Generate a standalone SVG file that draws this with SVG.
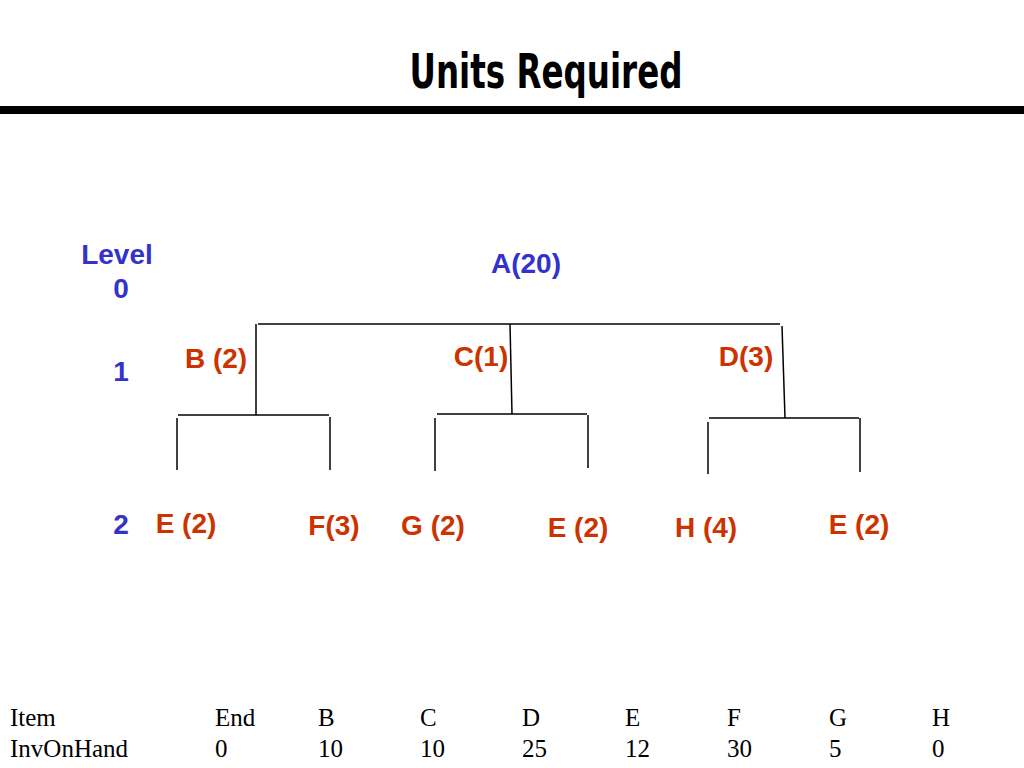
<svg xmlns="http://www.w3.org/2000/svg" width="1024" height="768" viewBox="0 0 1024 768">
<style>
.lvl{font-family:"Liberation Sans",Arial,sans-serif;font-weight:bold;font-size:28px;fill:#3333CC}
.red{font-family:"Liberation Sans",Arial,sans-serif;font-weight:bold;font-size:28px;fill:#CC3300}
.tbl{font-family:"Liberation Serif","Times New Roman",serif;font-size:25px;fill:#000}
.ln{stroke:#000;stroke-width:1.5;fill:none}
</style>
<rect width="1024" height="768" fill="#fff"/>
<text x="546" y="88" text-anchor="middle" font-family="DejaVu Sans Condensed, DejaVu Sans, sans-serif" font-weight="bold" font-size="48" textLength="273" lengthAdjust="spacingAndGlyphs">Units Required</text>
<rect x="0" y="106" width="1024" height="8" fill="#000"/>
<g id="levels">
<text class="lvl" x="117" y="264" text-anchor="middle">Level</text>
<text class="lvl" x="121" y="298" text-anchor="middle">0</text>
<text class="lvl" x="121" y="381" text-anchor="middle">1</text>
<text class="lvl" x="121" y="534" text-anchor="middle">2</text>
</g>
<g id="connectors">
<line class="ln" x1="258" y1="324" x2="780" y2="324"/>
<line class="ln" x1="256" y1="324" x2="256" y2="415"/>
<line class="ln" x1="510" y1="324" x2="512" y2="414"/>
<line class="ln" x1="782" y1="326" x2="785" y2="418"/>
<line class="ln" x1="178" y1="415" x2="329" y2="415"/>
<line class="ln" x1="177" y1="418" x2="177" y2="470"/>
<line class="ln" x1="330" y1="417" x2="330" y2="470"/>
<line class="ln" x1="437" y1="414" x2="587" y2="414"/>
<line class="ln" x1="435" y1="418" x2="435" y2="471"/>
<line class="ln" x1="588" y1="415" x2="588" y2="468"/>
<line class="ln" x1="709" y1="418" x2="859" y2="418"/>
<line class="ln" x1="708" y1="422" x2="708" y2="474"/>
<line class="ln" x1="860" y1="418" x2="860" y2="472"/>
</g>
<g id="node-A"><text class="lvl" x="526" y="273" text-anchor="middle">A(20)</text></g>
<g id="node-B"><text class="red" x="216" y="368" text-anchor="middle">B (2)</text></g>
<g id="node-C"><text class="red" x="481" y="366" text-anchor="middle">C(1)</text></g>
<g id="node-D"><text class="red" x="746" y="366" text-anchor="middle">D(3)</text></g>
<g id="node-E1"><text class="red" x="186" y="533" text-anchor="middle">E (2)</text></g>
<g id="node-F"><text class="red" x="334" y="535" text-anchor="middle">F(3)</text></g>
<g id="node-G"><text class="red" x="433" y="535" text-anchor="middle">G (2)</text></g>
<g id="node-E2"><text class="red" x="578" y="537" text-anchor="middle">E (2)</text></g>
<g id="node-H"><text class="red" x="706" y="537" text-anchor="middle">H (4)</text></g>
<g id="node-E3"><text class="red" x="859" y="534" text-anchor="middle">E (2)</text></g>
<g id="table">
<text class="tbl" x="10" y="726">Item</text>
<text class="tbl" x="215" y="726">End</text>
<text class="tbl" x="318" y="726">B</text>
<text class="tbl" x="420" y="726">C</text>
<text class="tbl" x="522" y="726">D</text>
<text class="tbl" x="625" y="726">E</text>
<text class="tbl" x="727" y="726">F</text>
<text class="tbl" x="829" y="726">G</text>
<text class="tbl" x="932" y="726">H</text>
<text class="tbl" x="10" y="757">InvOnHand</text>
<text class="tbl" x="215" y="757">0</text>
<text class="tbl" x="318" y="757">10</text>
<text class="tbl" x="420" y="757">10</text>
<text class="tbl" x="522" y="757">25</text>
<text class="tbl" x="625" y="757">12</text>
<text class="tbl" x="727" y="757">30</text>
<text class="tbl" x="829" y="757">5</text>
<text class="tbl" x="932" y="757">0</text>
</g>
</svg>
